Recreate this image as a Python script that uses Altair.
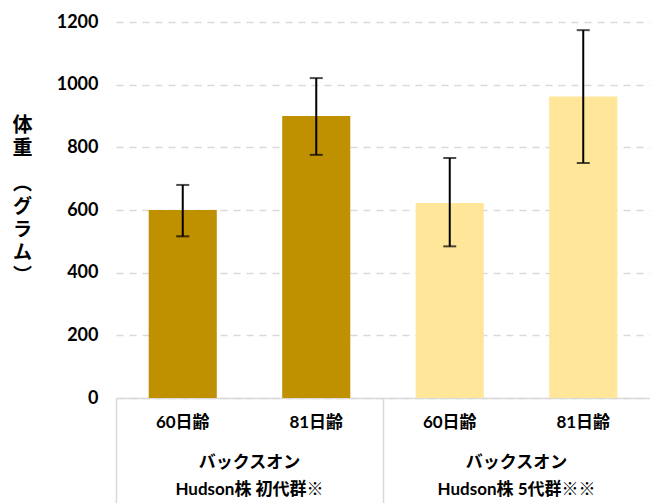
import altair as alt
import pandas as pd

# data
ages = ["60日齢", "81日齢", "60日齢", "81日齢"]
groups = ["バックスオン\nHudson株 初代群※", "バックスオン\nHudson株 初代群※",
          "バックスオン\nHudson株 5代群※※", "バックスオン\nHudson株 5代群※※"]
weight = [600, 900, 622, 962]
err_low = [516, 776, 484, 750]
err_high = [680, 1021, 766, 1174]
y_ticks = [0, 200, 400, 600, 800, 1000, 1200]
y_title_a = ["体", "重"]
y_title_b = ["︵", "グ", "ラ", "ム", "︶"]

group_order = [groups[0], groups[2]]
cats = [f"{i}:{a}" for i, a in enumerate(ages)]

df = pd.DataFrame({
    "cat": cats,
    "group": groups,
    "weight": weight,
    "lo": err_low,
    "hi": err_high,
})

FONT = "Lato, 'Noto Sans CJK JP'"
JFONT = "Noto Sans CJK JP"
GRID = "#d9d9d9"

x_main = alt.X(
    "cat:N",
    sort=cats,
    scale=alt.Scale(paddingInner=0, paddingOuter=0),
    axis=alt.Axis(
        title=None,
        labelAngle=0,
        labelExpr="slice(datum.label, 2)",
        labelFont=FONT,
        labelFontSize=17,
        labelFontWeight="bold",
        labelColor="#000000",
        labelPadding=-94,
        labelBaseline="top",
        bandPosition=0,
        tickSize=110,
        tickWidth=1.5,
        tickColor={
            "condition": {
                "test": "datum.value == '0:60日齢' || datum.value == '2:60日齢'",
                "value": GRID,
            },
            "value": "transparent",
        },
        domainColor=GRID,
        domainWidth=1.5,
        grid=False,
    ),
)

y_scale = alt.Scale(domain=[0, 1200], nice=False)

y_enc = alt.Y(
    "weight:Q",
    scale=y_scale,
    axis=alt.Axis(
        values=y_ticks,
        format="d",
        title=y_title_a,
        titleAngle=0,
        titleAlign="center",
        titleBaseline="top",
        titleX=-94,
        titleY=93,
        titleFont=JFONT,
        titleFontSize=20,
        titleFontWeight="bold",
        titleLineHeight=23,
        titleColor="#000000",
        labelFont=FONT,
        labelFontSize=18,
        labelFontWeight="bold",
        labelColor="#000000",
        labelPadding=18,
        ticks=False,
        domain=False,
        grid=True,
        gridColor=GRID,
        gridDash=[7, 6],
        gridWidth=1.5,
    ),
)

bars = alt.Chart(df).mark_bar(width=alt.RelativeBandSize(0.51)).encode(
    x=x_main,
    y=y_enc,
    color=alt.Color(
        "group:N",
        scale=alt.Scale(domain=group_order, range=["#BF9000", "#FFE699"]),
        legend=None,
    ),
)

rule = alt.Chart(df).mark_rule(color="#000000", strokeWidth=2).encode(
    x=alt.X("cat:N", sort=cats),
    y=alt.Y("lo:Q"),
    y2="hi:Q",
)
cap_lo = alt.Chart(df).mark_tick(color="#000000", size=13, thickness=2).encode(
    x=alt.X("cat:N", sort=cats),
    y=alt.Y("lo:Q"),
)
cap_hi = alt.Chart(df).mark_tick(color="#000000", size=13, thickness=2).encode(
    x=alt.X("cat:N", sort=cats),
    y=alt.Y("hi:Q"),
)

main = alt.layer(bars, rule, cap_lo, cap_hi)

grp = alt.Chart(df).mark_tick(opacity=0).encode(
    x=alt.X(
        "group:N",
        sort=group_order,
        scale=alt.Scale(paddingInner=0, paddingOuter=0),
        axis=alt.Axis(
            orient="bottom",
            title=None,
            domain=False,
            ticks=False,
            grid=False,
            labelAngle=0,
            labelPadding=56,
            labelBaseline="top",
            labelExpr="split(datum.label, '\\n')",
            labelLineHeight=27,
            labelFont=FONT,
            labelFontSize=17,
            labelFontWeight="bold",
            labelColor="#000000",
            labelLimit=400,
        ),
    ),
    y=alt.Y(
        "weight:Q",
        scale=y_scale,
        axis=alt.Axis(
            orient="left",
            labels=False,
            ticks=False,
            domain=False,
            grid=False,
            title=y_title_b,
            titleAngle=0,
            titleAlign="center",
            titleBaseline="top",
            titleX=-94,
            titleY=152,
            titleFont=JFONT,
            titleFontSize=19,
            titleFontWeight="bold",
            titleLineHeight=23,
            titleColor="#000000",
        ),
    ),
)

chart = alt.layer(main, grp).resolve_scale(x="independent", y="independent").resolve_axis(
    x="independent", y="independent"
).properties(
    width=534,
    height=376,
    autosize=alt.AutoSizeParams(type="none"),
    padding={"left": 116, "top": 22, "right": 0, "bottom": 105},
    background="white",
).configure_view(stroke=None)

chart.save("out.html", embed_options={"renderer": "svg", "actions": False})
